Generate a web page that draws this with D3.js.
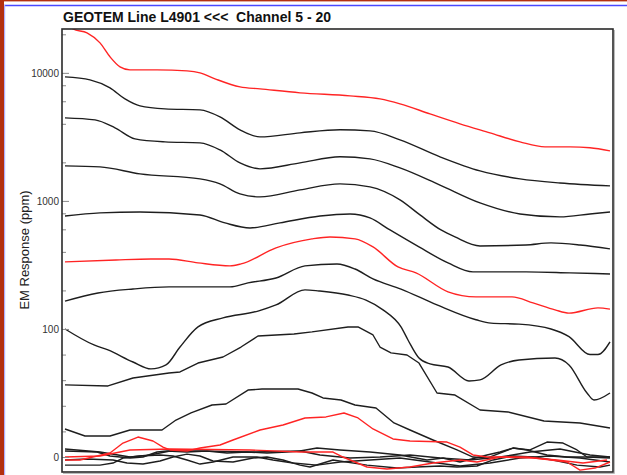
<!DOCTYPE html>
<html><head><meta charset="utf-8">
<script src="https://cdn.jsdelivr.net/npm/d3@7"></script>
<style>body{margin:0;background:#fff}svg{display:block}</style>
</head><body>
<svg id="chart" width="627" height="475"></svg>
<script>
// ---------------- data ----------------
const titleText = "GEOTEM Line L4901 <<<  Channel 5 - 20";
const yAxisLabel = "EM Response (ppm)";
const majorTicks = [0, 100, 1000, 10000];
const minorLinTicks = [20, 40, 60, 80];
const minorLogTicks = [200, 400, 600, 800, 2000, 4000, 6000, 8000, 20000];
const distanceRange = [0, 5450];     // metres along line
const yRange = [-11.7, 22000];       // ppm
const linearBreak = 100;             // linear below, log above

// [distance, ppm]
const ch5 = [[0,26000],[80,22000],[220,20500],[350,17150],[450,13340],[550,11140],[650,10550],[920,10550],[1220,10360],[1350,10000],[1500,8980],[1750,7770],[1950,7500],[2350,6980],[2850,6610],[3150,6260],[3350,5730],[3650,4780],[3950,4000],[4250,3400],[4550,2890],[4800,2640],[5050,2640],[5250,2600],[5450,2460]];
const ch6 = [[0,9310],[250,8820],[450,7630],[600,6260],[750,5520],[1000,5230],[1350,5140],[1550,4530],[1750,3590],[1950,3160],[2350,3400],[2750,3590],[3050,3520],[3350,3000],[3750,2210],[4150,1715],[4550,1485],[4950,1380],[5450,1310]];
const ch7 = [[0,4450],[300,4290],[500,3720],[700,3050],[1000,2890],[1350,2840],[1550,2500],[1750,1980],[1950,1780],[2350,1980],[2750,2210],[3050,2130],[3350,1810],[3750,1330],[4150,965],[4550,791],[4950,750],[5250,791],[5450,820]];
const ch8 = [[0,1877],[350,1845],[750,1625],[1350,1485],[1550,1358],[1750,1134],[1950,1075],[2350,1219],[2750,1358],[3050,1286],[3350,1018],[3550,777],[3760,593],[3900,523],[4150,445],[4610,453],[4860,470],[5150,453],[5450,422]];
const ch9 = [[0,763],[350,806],[750,820],[1350,777],[1600,673],[1850,615],[2150,673],[2550,763],[2850,791],[3050,736],[3250,593],[3540,437],[3830,328],[4080,279],[4610,279],[5050,274],[5450,269]];
const ch10 = [[0,334],[510,346],[860,352],[1040,352],[1330,328],[1650,311],[1760,322],[2110,430],[2470,505],[2650,523],[2900,505],[3080,437],[3330,305],[3510,274],[3830,195],[4110,178],[4470,178],[4680,160],[4900,141],[5040,133],[5330,146],[5450,143]];
const ch11 = [[0,165],[330,191],[680,205],[1040,213],[1650,213],[1830,229],[2110,250],[2400,311],[2720,322],[2900,294],[3080,246],[3360,205],[3720,154],[4110,118],[4260,111],[4540,109],[4860,100],[5040,94],[5250,80],[5330,80],[5450,90]];
const ch12 = [[0,100],[290,87.5],[430,83.6],[680,74.2],[860,68.8],[1010,71.9],[1150,85.9],[1330,103.7],[1580,122],[1930,138],[2110,154],[2400,202],[2540,198],[2830,184],[3010,168],[3180,141],[3360,103.7],[3430,91.4],[3540,77.3],[3650,72.7],[3830,70.3],[4040,59.4],[4150,60.2],[4360,71.9],[4540,75.8],[4900,77.3],[5040,71.9],[5220,50],[5290,44.5],[5450,50]];
const ch13 = [[0,56.3],[430,55.5],[680,61.7],[1040,65.6],[1150,66.4],[1330,73.4],[1580,78.1],[1760,85.9],[1930,94.5],[2290,96.1],[2470,97.7],[2830,103.7],[2930,103.7],[3080,95.3],[3150,85.9],[3260,81.3],[3420,79.7],[3540,73.4],[3720,50],[3900,48.4],[4150,36.7],[4430,35.2],[4790,28.1],[5150,26.6],[5450,22.7]];
const ch14 = [[0,21.9],[200,16.4],[450,16.4],[650,21.1],[970,21.1],[1110,28.9],[1260,34.4],[1470,40.6],[1610,41.4],[1830,52.3],[1970,53.1],[2330,53.1],[2470,50],[2580,46.1],[2760,44.5],[2900,40.6],[3110,38.3],[3290,26.6],[3450,21.1],[3680,13.3],[3920,5.5],[4080,0],[4220,-0.8],[4480,7.0],[4650,5.5],[4820,11.7],[4980,10.9],[5120,5.5],[5220,0],[5450,-0.8]];
const ch15 = [[0,-2.3],[150,-2.3],[450,3.1],[580,10.9],[730,15.6],[880,12.5],[980,7.8],[1050,5.5],[1220,4.7],[1350,7.0],[1550,9.4],[1680,13.3],[1950,21.1],[2180,25.0],[2400,30.5],[2610,31.3],[2790,34.4],[2930,30.5],[3080,21.9],[3280,14.1],[3450,12.5],[3820,11.7],[3950,7.8],[4080,1.6],[4220,0],[4620,0],[4780,-1.6],[5020,-3.9],[5150,-10.2],[5300,-8.6],[5450,-3.9]];
const ch16 = [[0,6.3],[350,3.9],[650,0],[850,1.6],[1050,4.7],[1350,4.7],[1850,3.9],[2350,4.7],[2520,7.0],[2750,5.5],[3050,3.9],[3350,1.6],[3620,-2.3],[3780,-0.8],[3950,-3.9],[4220,1.6],[4350,3.9],[4480,7.0],[4620,5.5],[4820,1.6],[5020,0],[5220,0],[5450,0]];
const ch17 = [[0,-2.3],[220,-1.6],[480,-2.3],[620,-4.7],[780,-5.5],[950,-3.1],[1080,0],[1220,2.3],[1350,0.8],[1480,-3.1],[1680,-3.9],[1880,-0.8],[2020,0],[2180,-2.3],[2350,-6.3],[2450,-7.8],[2680,-2.3],[3020,-6.3],[3320,-8.6],[3520,-7.8],[3750,-7.0],[3920,-7.8],[4120,-7.0],[4280,-2.3],[4480,0.8],[4680,0],[4880,-2.3],[5120,-6.3],[5350,-7.8],[5450,-6.3]];
const ch18 = [[0,-6.3],[350,-6.3],[480,-4.7],[580,-0.8],[750,0.8],[950,1.6],[1080,0.8],[1220,-2.3],[1350,-5.5],[1480,-3.9],[1680,0],[1920,0],[2080,-2.3],[2280,-4.7],[2520,-6.3],[2750,-3.9],[3050,-2.3],[3350,-0.8],[3650,-3.9],[3950,-7.0],[4250,-4.7],[4550,-0.8],[4850,0.8],[5150,-0.8],[5450,-3.9]];
const ch19 = [[0,4.7],[320,3.9],[450,0.8],[650,-0.8],[780,0],[920,3.9],[1020,4.7],[1220,3.9],[1420,4.7],[1620,3.1],[1820,3.9],[2020,3.1],[2220,3.9],[2350,4.7],[2550,1.6],[2850,-0.8],[3150,0],[3450,1.6],[3750,-0.8],[4050,-2.3],[4350,0],[4650,3.9],[4950,6.3],[5250,1.6],[5450,0]];
const ch20 = [[0,0],[350,0.8],[650,5.5],[1050,6.3],[1850,5.5],[2350,3.9],[2680,3.9],[2780,0],[3020,-7.8],[3220,-9.4],[3450,-7.8],[3680,-4.7],[3950,-2.3],[4120,-3.9],[4350,0],[4680,-0.8],[4920,-2.3],[5180,-4.7],[5420,-2.3]];

const channelNames = [5,6,7,8,9,10,11,12,13,14,15,16,17,18,19,20];
const channelData = [ch5,ch6,ch7,ch8,ch9,ch10,ch11,ch12,ch13,ch14,ch15,ch16,ch17,ch18,ch19,ch20];
const redChannels = [5,10,15,20];
const smoothChannels = [5,6,7,8,9,10,11,12];

// ---------------- layout ----------------
const W = 627, H = 475;
const plot = {left: 62, right: 613, top: 29, bottom: 472};
const lineStart = 65, lineEnd = 610;

const svg = d3.select("#chart");

// page decorations
svg.append("rect").attr("x",0).attr("y",0).attr("width",W).attr("height",H).attr("fill","#fff");
svg.append("rect").attr("x",0).attr("y",0).attr("width",4).attr("height",H).attr("fill","#b3300f");
svg.append("rect").attr("x",0).attr("y",0).attr("width",W).attr("height",1.4).attr("fill","#b3300f");
svg.append("line").attr("x1",4).attr("x2",W).attr("y1",5.5).attr("y2",5.5).attr("stroke","#4848ff").attr("stroke-width",1.6);
svg.append("line").attr("x1",4.6).attr("x2",4.6).attr("y1",5).attr("y2",H).attr("stroke","#b0b0ff").attr("stroke-width",1.2);

// scales
const x = d3.scaleLinear().domain(distanceRange).range([lineStart, lineEnd]);
const linSpan = (linearBreak - yRange[0]) / linearBreak;
const logSpan = Math.log10(yRange[1] / linearBreak);
const breakPx = plot.bottom - (plot.bottom - plot.top) * linSpan / (linSpan + logSpan);
const yLin = d3.scaleLinear().domain([yRange[0], linearBreak]).range([plot.bottom, breakPx]);
const yLog = d3.scaleLog().domain([linearBreak, yRange[1]]).range([breakPx, plot.top]);
const y = v => v <= linearBreak ? yLin(v) : yLog(v);

// clip
svg.append("clipPath").attr("id","clip").append("rect")
  .attr("x",plot.left).attr("y",plot.top).attr("width",plot.right-plot.left).attr("height",plot.bottom-plot.top);

// lines
const gLines = svg.append("g").attr("clip-path","url(#clip)");
const order = channelNames.map((c,i)=>i).sort((a,b)=>{
  const ra = redChannels.includes(channelNames[a]) ? 1 : 0;
  const rb = redChannels.includes(channelNames[b]) ? 1 : 0;
  return ra - rb || a - b;
});
order.forEach(i => {
  const ch = channelNames[i];
  const red = redChannels.includes(ch);
  const gen = d3.line().x(d => x(d[0])).y(d => y(d[1]))
    .curve(smoothChannels.includes(ch) ? d3.curveMonotoneX : d3.curveLinear);
  gLines.append("path").datum(channelData[i])
    .attr("d", gen).attr("fill","none")
    .attr("stroke", red ? "#ff2424" : "#1e1e1e")
    .attr("stroke-width", 1.4).attr("stroke-linejoin","round");
});

// axes (ticks inside the frame)
const fmt = d3.format("d");
function tickAxis(scale, values, size, labels){
  const ax = d3.axisLeft(scale).tickValues(values).tickSizeInner(-size).tickSizeOuter(0).tickPadding(3)
    .tickFormat(labels ? fmt : () => "");
  const g = svg.append("g").attr("transform",`translate(${plot.left},0)`).call(ax);
  g.select(".domain").remove();
  g.selectAll(".tick line").attr("stroke","#8a8a8a").attr("stroke-width",1);
  g.selectAll(".tick text").attr("fill","#333").style("font-family","Arial, 'Liberation Sans', sans-serif").style("font-size","10px");
  return g;
}
tickAxis(yLin, majorTicks.filter(v => v <= linearBreak), 7, true);
tickAxis(yLog, majorTicks.filter(v => v > linearBreak), 7, true);
tickAxis(yLin, minorLinTicks, 4, false);
tickAxis(yLog, minorLogTicks, 4, false);

// frame
svg.append("rect").attr("x",plot.left).attr("y",plot.top)
  .attr("width",plot.right-plot.left).attr("height",plot.bottom-plot.top)
  .attr("fill","none").attr("stroke","#2a2a2a").attr("stroke-width",1.6);
svg.append("line").attr("x1",plot.right+1.5).attr("x2",plot.right+1.5).attr("y1",plot.top+1).attr("y2",plot.bottom+1.5)
  .attr("stroke","#bbb").attr("stroke-width",1);
svg.append("line").attr("x1",plot.left+1).attr("x2",plot.right+1.5).attr("y1",plot.bottom+1.5).attr("y2",plot.bottom+1.5)
  .attr("stroke","#bbb").attr("stroke-width",1);

// title
svg.append("text").attr("x",63).attr("y",22)
  .style("font-family","Arial, 'Liberation Sans', sans-serif").style("font-size","14px").style("font-weight","bold")
  .style("white-space","pre").attr("fill","#111").text(titleText);

// y label
svg.append("text").attr("transform","translate(29,250) rotate(-90)").attr("text-anchor","middle")
  .style("font-family","Arial, 'Liberation Sans', sans-serif").style("font-size","13px").attr("fill","#222")
  .text(yAxisLabel);
</script>
</body></html>
